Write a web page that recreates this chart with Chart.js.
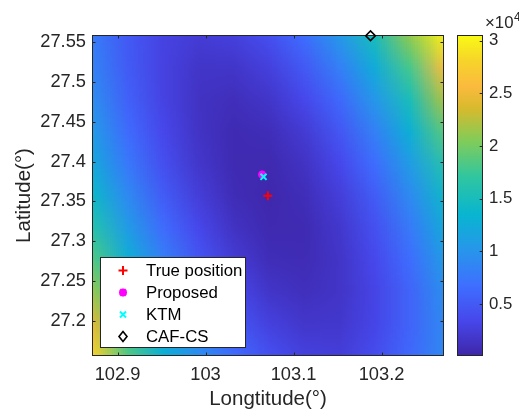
<!DOCTYPE html>
<html lang="en">
<head>
<meta charset="UTF-8">
<title>Cost surface - positioning results</title>
<script src="https://cdn.jsdelivr.net/npm/chart.js@4.4.1/dist/chart.umd.min.js"></script>
<style>
    html, body { margin: 0; padding: 0; background: #fff; }
    .wrap { position: relative; width: 519px; height: 412px; }
</style>
</head>
<body>
<div class="wrap"><canvas id="surf" width="519" height="412"></canvas></div>
<script>
// surface grid (degrees)
const lonGrid = [102.871, 102.911, 102.951, 102.991, 103.031, 103.071, 103.111, 103.151, 103.191, 103.231, 103.271];
const latGrid = [27.558, 27.518, 27.478, 27.438, 27.398, 27.358, 27.318, 27.278, 27.238, 27.198, 27.158];
// cost values (x10^4), one row per latitude
const costRows = [
    [0.78, 0.49, 0.30, 0.23, 0.27, 0.41, 0.66, 1.03, 1.50, 2.10, 3.00],
    [0.84, 0.51, 0.29, 0.17, 0.17, 0.27, 0.49, 0.81, 1.24, 1.80, 2.60],
    [0.93, 0.56, 0.30, 0.14, 0.10, 0.17, 0.34, 0.62, 1.02, 1.52, 2.20],
    [1.05, 0.64, 0.34, 0.15, 0.06, 0.09, 0.22, 0.47, 0.82, 1.28, 1.88],
    [1.20, 0.75, 0.41, 0.18, 0.06, 0.045, 0.14, 0.34, 0.66, 1.08, 1.61],
    [1.39, 0.90, 0.52, 0.25, 0.08, 0.03, 0.09, 0.25, 0.52, 0.91, 1.40],
    [1.60, 1.07, 0.65, 0.34, 0.14, 0.05, 0.06, 0.19, 0.42, 0.77, 1.22],
    [1.84, 1.28, 0.82, 0.47, 0.23, 0.09, 0.07, 0.16, 0.35, 0.66, 1.07],
    [2.12, 1.48, 1.00, 0.62, 0.35, 0.17, 0.11, 0.16, 0.31, 0.58, 0.95],
    [2.43, 1.65, 1.15, 0.78, 0.48, 0.28, 0.18, 0.19, 0.32, 0.58, 0.90],
    [2.80, 1.85, 1.30, 0.95, 0.65, 0.42, 0.28, 0.25, 0.38, 0.62, 0.90]
];
const cRange = [0.005, 3.054];

// estimated positions
const trueLon = [103.0708], trueLat = [27.357];
const propLon = [103.0643], propLat = [27.3838];
const ktmLon = [103.0659], ktmLat = [27.3808];
const cafLon = [103.1875], cafLat = [27.5575];

// tick labels
const xTicks = [102.9, 103, 103.1, 103.2];
const yTicks = [27.2, 27.25, 27.3, 27.35, 27.4, 27.45, 27.5, 27.55];
const cTicks = [0.5, 1, 1.5, 2, 2.5, 3];

const FONT = '"Liberation Sans", Arial, sans-serif';
const INK = '#262626';

// parula-like colour stops
const parulaStops = [
    [0.00, [62, 38, 168]],
    [0.11, [71, 71, 235]],
    [0.22, [62, 111, 255]],
    [0.33, [39, 150, 235]],
    [0.44, [8, 181, 208]],
    [0.56, [49, 198, 159]],
    [0.67, [129, 204, 89]],
    [0.77, [215, 186, 45]],
    [0.84, [251, 186, 62]],
    [0.92, [246, 212, 42]],
    [1.00, [249, 251, 20]]
];
function parula(t) {
    t = Math.max(0, Math.min(1, t));
    for (let i = 1; i < parulaStops.length; i++) {
        const [p1, c1] = parulaStops[i];
        const [p0, c0] = parulaStops[i - 1];
        if (t <= p1) {
            const f = (t - p0) / (p1 - p0);
            return c0.map((v, k) => Math.round(v + (c1[k] - v) * f));
        }
    }
    return parulaStops[parulaStops.length - 1][1];
}

function tickMarks(ctx, scale, vals, horizontal, a) {
    ctx.beginPath();
    vals.forEach(v => {
        const p = Math.round(scale.getPixelForValue(v)) + 0.5;
        if (horizontal) {
            ctx.moveTo(p, a.bottom); ctx.lineTo(p, a.bottom - 3.5);
            ctx.moveTo(p, a.top); ctx.lineTo(p, a.top + 3.5);
        } else {
            ctx.moveTo(a.left, p); ctx.lineTo(a.left + 3.5, p);
            ctx.moveTo(a.right, p); ctx.lineTo(a.right - 3.5, p);
        }
    });
    ctx.stroke();
}

function marker(ctx, style, color, x, y) {
    ctx.save();
    ctx.strokeStyle = color;
    ctx.beginPath();
    if (style === 'cross') {
        ctx.lineWidth = 2;
        ctx.moveTo(x - 4.5, y); ctx.lineTo(x + 4.5, y);
        ctx.moveTo(x, y - 4.5); ctx.lineTo(x, y + 4.5);
    } else if (style === 'star') {
        ctx.lineWidth = 2.5;
        ctx.moveTo(x - 4, y); ctx.lineTo(x + 4, y);
        ctx.moveTo(x, y - 4); ctx.lineTo(x, y + 4);
        ctx.moveTo(x - 3, y - 3); ctx.lineTo(x + 3, y + 3);
        ctx.moveTo(x - 3, y + 3); ctx.lineTo(x + 3, y - 3);
    } else if (style === 'crossRot') {
        ctx.lineWidth = 2;
        ctx.moveTo(x - 3, y - 3); ctx.lineTo(x + 3, y + 3);
        ctx.moveTo(x - 3, y + 3); ctx.lineTo(x + 3, y - 3);
    } else {
        ctx.lineWidth = 1.6;
        ctx.moveTo(x, y - 5); ctx.lineTo(x + 4, y); ctx.lineTo(x, y + 5); ctx.lineTo(x - 4, y); ctx.closePath();
    }
    ctx.stroke();
    ctx.restore();
}

const surfacePlugin = {
    id: 'surface',
    beforeDatasetsDraw(chart) {
        const { ctx, chartArea: a, scales } = chart;
        const x = scales.x, y = scales.y, c = scales.c;
        const nx = lonGrid.length, ny = latGrid.length;

        // cost surface, one cell per grid node
        const off = document.createElement('canvas');
        off.width = nx; off.height = ny;
        const octx = off.getContext('2d');
        const img = octx.createImageData(nx, ny);
        costRows.forEach((row, j) => row.forEach((v, i) => {
            const col = parula((v - cRange[0]) / (cRange[1] - cRange[0]));
            const k = (j * nx + i) * 4;
            img.data[k] = col[0]; img.data[k + 1] = col[1]; img.data[k + 2] = col[2]; img.data[k + 3] = 255;
        }));
        octx.putImageData(img, 0, 0);
        const cw = x.getPixelForValue(lonGrid[1]) - x.getPixelForValue(lonGrid[0]);
        const ch = y.getPixelForValue(latGrid[1]) - y.getPixelForValue(latGrid[0]);
        const x0 = x.getPixelForValue(lonGrid[0]) - cw / 2;
        const y0 = y.getPixelForValue(latGrid[0]) - ch / 2;
        ctx.save();
        ctx.beginPath();
        ctx.rect(a.left, a.top, a.right - a.left, a.bottom - a.top);
        ctx.clip();
        ctx.imageSmoothingEnabled = true;
        ctx.drawImage(off, x0, y0, cw * nx, ch * ny);
        ctx.restore();

        // axes box + inward ticks
        ctx.save();
        ctx.strokeStyle = INK;
        ctx.lineWidth = 1;
        ctx.strokeRect(a.left + 0.5, a.top + 0.5, a.right - a.left - 1, a.bottom - a.top - 1);
        tickMarks(ctx, x, xTicks, true, a);
        tickMarks(ctx, y, yTicks, false, a);

        // colorbar
        const cbL = a.right + 13, cbW = 26;
        const top = c.getPixelForValue(cRange[1]), bot = c.getPixelForValue(cRange[0]);
        const grad = ctx.createLinearGradient(0, bot, 0, top);
        parulaStops.forEach(([p, col]) => grad.addColorStop(p, 'rgb(' + col.join(',') + ')'));
        ctx.fillStyle = grad;
        ctx.fillRect(cbL, top, cbW, bot - top);
        ctx.strokeRect(cbL + 0.5, top + 0.5, cbW - 1, bot - top - 1);
        ctx.beginPath();
        cTicks.forEach(v => {
            const p = Math.round(c.getPixelForValue(v)) + 0.5;
            ctx.moveTo(cbL + cbW, p); ctx.lineTo(cbL + cbW - 3.3, p);
        });
        ctx.stroke();
        ctx.restore();
    },
    afterDatasetsDraw(chart) {
        const { ctx, chartArea: a } = chart;
        // legend box
        const lx = a.left + 8, ly = a.bottom - 99, lw = 146, lh = 91;
        ctx.save();
        ctx.fillStyle = '#fff';
        ctx.fillRect(lx, ly, lw, lh);
        ctx.strokeStyle = INK;
        ctx.lineWidth = 1;
        ctx.strokeRect(lx + 0.5, ly + 0.5, lw - 1, lh - 1);
        ctx.font = '16.8px ' + FONT;
        ctx.fillStyle = '#000';
        ctx.textBaseline = 'middle';
        chart.data.datasets.forEach((ds, i) => {
            const ry = ly + 13.5 + i * 22;
            marker(ctx, ds.pointStyle, ds.pointBorderColor, lx + 23, ry);
            ctx.fillText(ds.label, lx + 46, ry + 1);
        });

        // colorbar exponent
        ctx.fillStyle = INK;
        ctx.textBaseline = 'alphabetic';
        ctx.font = '16.8px ' + FONT;
        ctx.fillText('\u00d710', a.right + 41, a.top - 7);
        ctx.font = '12px ' + FONT;
        ctx.fillText('4', a.right + 70, a.top - 14);
        ctx.restore();
    }
};

const tickFont = { family: FONT, size: 18.3 };

new Chart(document.getElementById('surf'), {
    type: 'scatter',
    data: {
        datasets: [
            { label: 'True position', data: trueLon.map((v, i) => ({ x: v, y: trueLat[i] })),
              pointStyle: 'cross', pointRadius: 4.5, pointBorderWidth: 2, pointBorderColor: '#ff0000', pointBackgroundColor: '#ff0000', order: 4 },
            { label: 'Proposed', data: propLon.map((v, i) => ({ x: v, y: propLat[i] })),
              pointStyle: 'star', pointRadius: 4, pointBorderWidth: 2.5, pointBorderColor: '#ff00ff', pointBackgroundColor: '#ff00ff', order: 3 },
            { label: 'KTM', data: ktmLon.map((v, i) => ({ x: v, y: ktmLat[i] })),
              pointStyle: 'crossRot', pointRadius: 4.3, pointBorderWidth: 2, pointBorderColor: '#00ffff', pointBackgroundColor: '#00ffff', order: 2 },
            { label: 'CAF-CS', data: cafLon.map((v, i) => ({ x: v, y: cafLat[i] })),
              pointStyle: 'rectRot', pointRadius: 4.8, pointBorderWidth: 1.6, pointBorderColor: '#000000', pointBackgroundColor: 'rgba(0,0,0,0)', order: 1, clip: false }
        ]
    },
    options: {
        responsive: false,
        animation: false,
        layout: { padding: { left: 0, top: 35, right: 0, bottom: 0 } },
        plugins: { legend: { display: false }, tooltip: { enabled: false } },
        scales: {
            x: {
                type: 'linear', min: 102.871, max: 103.271,
                grid: { display: false, drawTicks: false }, border: { display: false },
                afterBuildTicks: s => { s.ticks = xTicks.map(v => ({ value: v })); },
                afterFit: s => { s.height = 56; s.paddingLeft = 0; s.paddingRight = 0; },
                ticks: { font: tickFont, color: INK, padding: 8, maxRotation: 0, callback: v => String(v) },
                title: { display: true, text: 'Longtitude(°)', color: INK, font: { family: FONT, size: 20.5 }, padding: { top: 0, bottom: 0 } }
            },
            y: {
                type: 'linear', min: 27.1565, max: 27.5584,
                grid: { display: false, drawTicks: false }, border: { display: false },
                afterBuildTicks: s => { s.ticks = yTicks.map(v => ({ value: v })); },
                afterFit: s => { s.width = 92; s.paddingTop = 0; s.paddingBottom = 0; },
                ticks: { font: tickFont, color: INK, padding: 6, callback: v => String(v) },
                title: { display: true, text: 'Latitude(°)', color: INK, font: { family: FONT, size: 20.5 }, padding: { top: 12, bottom: 0 } }
            },
            c: {
                type: 'linear', position: 'right', min: cRange[0], max: cRange[1],
                grid: { display: false, drawTicks: false }, border: { display: false },
                afterBuildTicks: s => { s.ticks = cTicks.map(v => ({ value: v })); },
                afterFit: s => { s.width = 75; s.paddingTop = 0; s.paddingBottom = 0; },
                ticks: { font: { family: FONT, size: 16.8 }, color: INK, padding: 45, callback: v => String(v) }
            }
        }
    },
    plugins: [surfacePlugin]
});
</script>
</body>
</html>
